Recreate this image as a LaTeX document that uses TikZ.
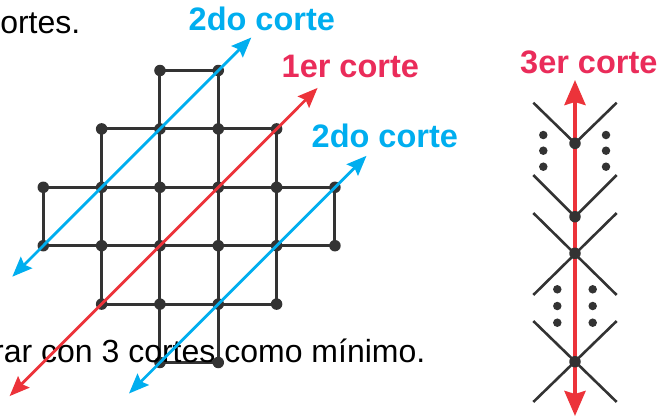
\documentclass[tikz,border=0pt]{standalone}
\usepackage{fontspec}
\setmainfont{Liberation Sans}
\usetikzlibrary{arrows.meta}
\definecolor{cblue}{RGB}{0,174,239}
\definecolor{cred}{RGB}{236,51,58}
\definecolor{cpink}{RGB}{234,44,90}
\definecolor{cgray}{RGB}{51,51,51}
\begin{document}
\begin{tikzpicture}[x=1pt,y=-1pt,
  gridline/.style={cgray, line width=3pt},
  sideline/.style={cgray, line width=2.6pt},
  dot/.style={circle, fill=cgray, inner sep=0pt, minimum size=11.5pt},
  smalldot/.style={circle, fill=cgray, inner sep=0pt, minimum size=8.5pt},
  diagtip/.tip={Stealth[length=20pt,width=16pt,inset=3pt]},
  verttip/.tip={Stealth[length=25pt,width=21pt,inset=3pt]},
  cutblue/.style={cblue, line width=2.8pt, diagtip-diagtip},
  cutred/.style={cred, line width=2.8pt, diagtip-diagtip},
  cutvert/.style={cred, line width=4pt, verttip-verttip},
  lbl/.style={font=\bfseries\fontsize{32.5}{32.5}\selectfont, anchor=base west, inner sep=0pt},
  body/.style={font=\fontsize{32}{32}\selectfont, anchor=base east, inner sep=0pt, text=black}]
\useasboundingbox (0,0) rectangle (662,416);
\clip (0,0) rectangle (662,416);

% grid coordinates
\foreach \r in {0,...,5}
  \foreach \c in {0,...,5}
    \coordinate (g\r\c) at ({43.3+58.33*\c},{70.5+58.4*\r});

% grid lines
\draw[gridline] (g02) -- (g03);
\draw[gridline] (g11) -- (g14);
\draw[gridline] (g20) -- (g25);
\draw[gridline] (g30) -- (g35);
\draw[gridline] (g41) -- (g44);
\draw[gridline] (g52) -- (g53);
\draw[gridline] (g20) -- (g30);
\draw[gridline] (g11) -- (g41);
\draw[gridline] (g02) -- (g52);
\draw[gridline] (g03) -- (g53);
\draw[gridline] (g14) -- (g44);
\draw[gridline] (g25) -- (g35);

% grid dots
\foreach \r/\cs in {0/{2,3},1/{1,2,3,4},2/{0,1,2,3,4,5},3/{0,1,2,3,4,5},4/{1,2,3,4},5/{2,3}}
  \foreach \c in \cs
    \node[dot] (d\r\c) at (g\r\c) {};

% texts
\node[body] (t1) at (80.5,33) {cortes.};
\node[body] (t2) at (425.5,362) {rar con 3 cortes como mínimo.};
\node[lbl, text=cblue] (l1) at (188.5,30) {2do corte};
\node[lbl, text=cpink] (l2) at (281.5,77) {1er corte};
\node[lbl, text=cblue] (l3) at (311.5,147) {2do corte};
\node[lbl, text=cpink] (l4) at (520,73.3) {3er corte};

% cuts on grid
\coordinate (b1a) at (12.3,276.7);
\coordinate (b1b) at (251.3,37.5);
\coordinate (ra) at (9.6,396.1);
\coordinate (rb) at (317.6,87.9);
\coordinate (b2a) at (129,393.5);
\coordinate (b2b) at (366.5,155.8);
\draw[cutblue] (b1a) -- (b1b);
\draw[cutred] (ra) -- (rb);
\draw[cutblue] (b2a) -- (b2b);

% right figure
\coordinate (va) at (575,416);
\coordinate (vb) at (575,80);
\draw[cutvert] (va) -- (vb);

\coordinate (nA) at (575,143.3);
\coordinate (nB) at (575,216.7);
\coordinate (nC) at (575,253.3);
\coordinate (nD) at (575,361.7);

\coordinate (aAl) at (533.3,102.7);
\coordinate (aAr) at (616.7,102.7);
\coordinate (aBl) at (533.3,175);
\coordinate (aBr) at (616.7,175);
\coordinate (aCul) at (533.3,213);
\coordinate (aCur) at (616.7,213);
\coordinate (aCdl) at (533.3,295);
\coordinate (aCdr) at (616.7,295);
\coordinate (aDul) at (533.3,321);
\coordinate (aDur) at (616.7,321);
\coordinate (aDdl) at (533.3,402);
\coordinate (aDdr) at (616.7,402);

\draw[sideline] (aAl) -- (nA) -- (aAr);
\draw[sideline] (aBl) -- (nB) -- (aBr);
\draw[sideline] (aCul) -- (aCdr);
\draw[sideline] (aCur) -- (aCdl);
\draw[sideline] (aDul) -- (aDdr);
\draw[sideline] (aDur) -- (aDdl);

\node[dot] (dA) at (nA) {};
\node[dot] (dB) at (nB) {};
\node[dot] (dC) at (nC) {};
\node[dot] (dD) at (nD) {};

\foreach \y [count=\i] in {135,150.7,166.7} {
  \node[smalldot] (ul\i) at (543.3,\y) {};
  \node[smalldot] (ur\i) at (606,\y) {};
}
\foreach \y [count=\i] in {289.3,306,322.7} {
  \node[smalldot] (ll\i) at (557.3,\y) {};
  \node[smalldot] (lr\i) at (592.7,\y) {};
}
\end{tikzpicture}
\end{document}
